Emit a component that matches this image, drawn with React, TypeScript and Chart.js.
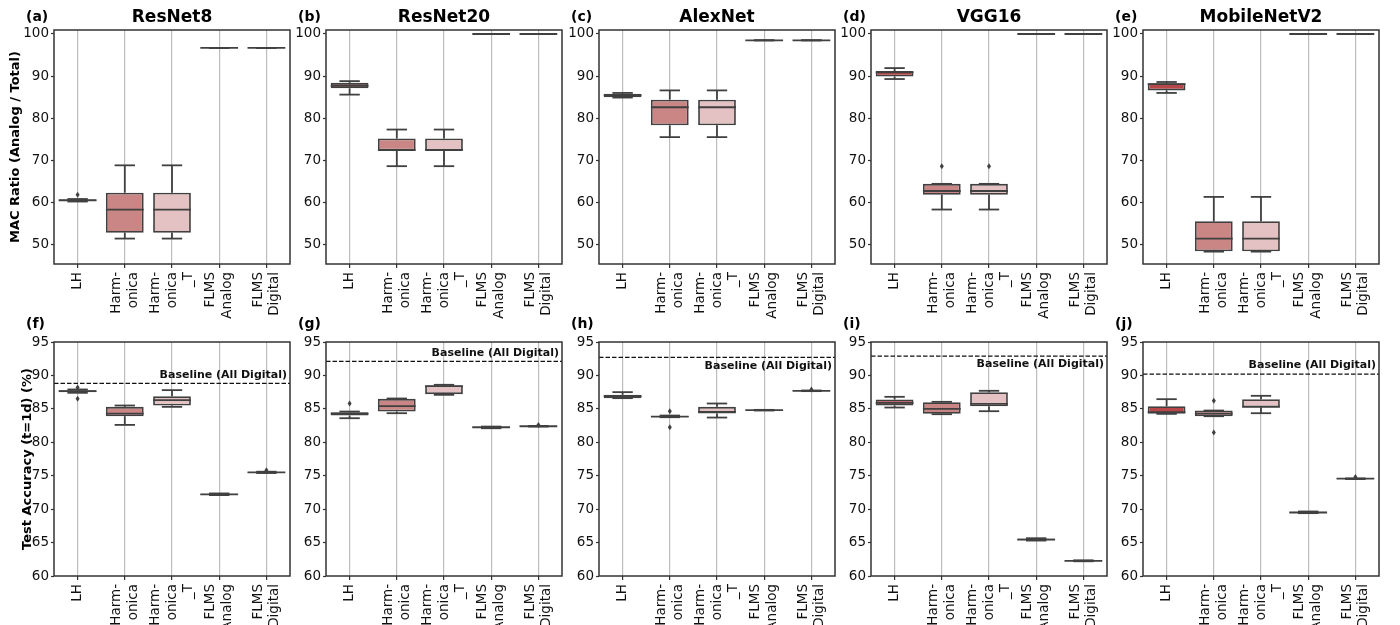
import React, { useEffect, useRef } from 'react';
import { Chart, registerables } from 'chart.js';

Chart.register(...registerables);
Chart.defaults.font.family = "'DejaVu Sans', sans-serif";

// ---------- data ----------
const categories = ['LH', 'Harmonica', 'Harmonica_T', 'FLMS Analog', 'FLMS Digital'];
const categoryTickLines = [['LH'], ['Harm-', 'onica'], ['Harm-', 'onica', '_T'], ['FLMS', 'Analog'], ['FLMS', 'Digital']];
const boxColors = ['#b9474a', '#c98684', '#e4c1c2', '#d6d6d6', '#d6d6d6'];
const modelNames = ['ResNet8', 'ResNet20', 'AlexNet', 'VGG16', 'MobileNetV2'];
const lettersTop = ['(a)', '(b)', '(c)', '(d)', '(e)'];
const lettersBottom = ['(f)', '(g)', '(h)', '(i)', '(j)'];
const macTicks = [50, 60, 70, 80, 90, 100];
const accTicks = [60, 65, 70, 75, 80, 85, 90, 95];
const macRange = [45.36, 100.95];
const accRange = [60, 95];
const macTitle = 'MAC Ratio (Analog / Total)';
const accTitle = 'Test Accuracy (t=1d) (%)';

// box stats per category: [min, q1, median, q3, max]
const macResNet8 = [[60.2, 60.3, 60.5, 60.7, 60.8], [51.4, 52.8, 58.3, 62.3, 68.8], [51.4, 52.8, 58.3, 62.3, 68.8], [96.7, 96.7, 96.7, 96.7, 96.7], [96.7, 96.7, 96.7, 96.7, 96.7]];
const macResNet20 = [[85.6, 87.1, 87.7, 88.4, 88.8], [68.6, 72.3, 72.4, 75.2, 77.3], [68.6, 72.3, 72.4, 75.2, 77.3], [100, 100, 100, 100, 100], [100, 100, 100, 100, 100]];
const macAlexNet = [[84.9, 85.0, 85.4, 85.8, 86.0], [75.5, 78.3, 82.6, 84.4, 86.6], [75.5, 78.3, 82.6, 84.4, 86.6], [98.5, 98.5, 98.5, 98.5, 98.5], [98.5, 98.5, 98.5, 98.5, 98.5]];
const macVGG16 = [[89.3, 89.9, 90.9, 91.2, 91.9], [58.3, 61.8, 62.7, 64.4, 64.4], [58.3, 61.8, 62.7, 64.4, 64.4], [100, 100, 100, 100, 100], [100, 100, 100, 100, 100]];
const macMobileNetV2 = [[86.0, 86.6, 88.1, 88.3, 88.6], [48.3, 48.4, 51.4, 55.5, 61.3], [48.3, 48.4, 51.4, 55.5, 61.3], [100, 100, 100, 100, 100], [100, 100, 100, 100, 100]];

const macOutResNet8 = [[61.8], [], [], [], []];
const macOutResNet20 = [[], [], [], [], []];
const macOutAlexNet = [[], [], [], [], []];
const macOutVGG16 = [[], [68.6], [68.6], [], []];
const macOutMobileNetV2 = [[], [], [], [], []];

const accResNet8 = [[87.4, 87.5, 87.65, 87.8, 87.9], [82.6, 83.9, 84.3, 85.3, 85.5], [85.3, 85.5, 86.3, 86.9, 87.8], [72.1, 72.15, 72.2, 72.3, 72.35], [75.4, 75.45, 75.5, 75.55, 75.6]];
const accResNet20 = [[83.6, 84.0, 84.3, 84.5, 84.6], [84.35, 84.6, 85.4, 86.5, 86.55], [87.1, 87.2, 88.4, 88.5, 88.6], [82.1, 82.15, 82.25, 82.3, 82.35], [82.35, 82.4, 82.4, 82.45, 82.45]];
const accAlexNet = [[86.6, 86.6, 86.9, 87.1, 87.5], [83.75, 83.8, 83.85, 83.95, 84.0], [83.7, 84.3, 84.55, 85.3, 85.8], [84.75, 84.78, 84.8, 84.82, 84.85], [87.65, 87.68, 87.7, 87.72, 87.75]];
const accVGG16 = [[85.2, 85.5, 85.9, 86.4, 86.8], [84.2, 84.25, 85.0, 86.0, 86.05], [84.65, 85.4, 85.75, 87.5, 87.7], [65.3, 65.35, 65.45, 65.6, 65.65], [62.2, 62.22, 62.25, 62.3, 62.35]];
const accMobileNetV2 = [[84.25, 84.25, 84.5, 85.4, 86.45], [83.9, 83.9, 84.3, 84.75, 84.75], [84.35, 85.25, 85.3, 86.45, 86.95], [69.4, 69.45, 69.5, 69.6, 69.65], [74.5, 74.52, 74.55, 74.6, 74.6]];

const accOutResNet8 = [[88.2, 86.5], [], [], [], [75.8]];
const accOutResNet20 = [[85.8], [], [], [], [82.6]];
const accOutAlexNet = [[], [84.65, 82.25], [], [], [87.9]];
const accOutVGG16 = [[], [], [], [], []];
const accOutMobileNetV2 = [[], [86.2, 81.45], [], [], [74.8]];

const baselineValues = [88.8, 92.1, 92.7, 92.9, 90.2];
const baselineText = 'Baseline (All Digital)';
const baselineTextSide = ['above', 'above', 'below', 'below', 'above'];

const macStats = [macResNet8, macResNet20, macAlexNet, macVGG16, macMobileNetV2];
const macOutliers = [macOutResNet8, macOutResNet20, macOutAlexNet, macOutVGG16, macOutMobileNetV2];
const accStats = [accResNet8, accResNet20, accAlexNet, accVGG16, accMobileNetV2];
const accOutliers = [accOutResNet8, accOutResNet20, accOutAlexNet, accOutVGG16, accOutMobileNetV2];

// ---------- style ----------
const EDGE = '#404040';
const SPINE = '#333333';
const GRID = '#bdbdbd';
const PLOT_W = 236;
const PLOT_H = 234;
const AXIS_W = 54;
const CANVAS_W = 298;
const CANVAS_H = 325;

type PanelCfg = {
  row: number;
  col: number;
  stats: number[][];
  outliers: number[][];
  ticks: number[];
  range: number[];
  title?: string;
  letter: string;
  yTitle?: string;
  baseline?: number;
  baselineSide?: string;
};

function line(ctx: CanvasRenderingContext2D, x1: number, y1: number, x2: number, y2: number) {
  ctx.beginPath();
  ctx.moveTo(x1, y1);
  ctx.lineTo(x2, y2);
  ctx.stroke();
}

function makePlugin(cfg: PanelCfg) {
  return {
    id: 'boxExtras',
    afterDatasetsDraw(chart: any) {
      const { ctx } = chart;
      const x = chart.scales.x;
      const y = chart.scales.y;
      const meta = chart.getDatasetMeta(0);
      ctx.save();
      ctx.strokeStyle = EDGE;
      ctx.lineWidth = 1.8;
      ctx.lineCap = 'butt';
      cfg.stats.forEach((s, i) => {
        const bar = meta.data[i] as any;
        const cx = x.getPixelForValue(i);
        const half = bar.width / 2;
        const cap = bar.width * 0.27;
        const yMin = y.getPixelForValue(s[0]);
        const yQ1 = y.getPixelForValue(s[1]);
        const yMed = y.getPixelForValue(s[2]);
        const yQ3 = y.getPixelForValue(s[3]);
        const yMax = y.getPixelForValue(s[4]);
        if (yMin - yQ1 > 0.5) line(ctx, cx, yQ1, cx, yMin);
        if (yQ3 - yMax > 0.5) line(ctx, cx, yQ3, cx, yMax);
        line(ctx, cx - cap, yMin, cx + cap, yMin);
        line(ctx, cx - cap, yMax, cx + cap, yMax);
        line(ctx, cx - half, yMed, cx + half, yMed);
        ctx.fillStyle = EDGE;
        (cfg.outliers[i] || []).forEach((v) => {
          const py = y.getPixelForValue(v);
          ctx.beginPath();
          ctx.moveTo(cx, py - 3);
          ctx.lineTo(cx + 2, py);
          ctx.lineTo(cx, py + 3);
          ctx.lineTo(cx - 2, py);
          ctx.closePath();
          ctx.fill();
        });
      });
      if (cfg.baseline !== undefined) {
        const area = chart.chartArea;
        const by = y.getPixelForValue(cfg.baseline);
        ctx.strokeStyle = '#111';
        ctx.lineWidth = 1.2;
        ctx.setLineDash([4.5, 2]);
        line(ctx, area.left, by, area.right, by);
        ctx.setLineDash([]);
        ctx.fillStyle = '#111';
        ctx.font = "bold 11px 'DejaVu Sans'";
        ctx.textAlign = 'right';
        ctx.textBaseline = 'middle';
        ctx.fillText(baselineText, area.right - 3, cfg.baselineSide === 'below' ? by + 8.5 : by - 8.5);
      }
      ctx.restore();
    },
    afterDraw(chart: any) {
      const { ctx } = chart;
      const area = chart.chartArea;
      const x = chart.scales.x;
      ctx.save();
      // spines
      ctx.strokeStyle = SPINE;
      ctx.lineWidth = 1.5;
      ctx.strokeRect(area.left, area.top, area.right - area.left, area.bottom - area.top);
      // x tick labels (rotated, centred multi-line)
      ctx.fillStyle = '#111';
      ctx.font = "13.5px 'DejaVu Sans'";
      ctx.textAlign = 'right';
      ctx.textBaseline = 'middle';
      const lh = 16.7;
      categoryTickLines.forEach((lines, i) => {
        const px = x.getPixelForValue(i);
        lines.forEach((t, j) => {
          const cx = px + (j - (lines.length - 1) / 2) * lh;
          ctx.save();
          ctx.translate(cx, area.bottom + 8);
          ctx.rotate(-Math.PI / 2);
          ctx.fillText(t, 0, 0);
          ctx.restore();
        });
      });
      // panel letter and title
      ctx.fillStyle = '#000';
      ctx.textBaseline = 'middle';
      ctx.textAlign = 'left';
      ctx.font = "bold 14px 'DejaVu Sans'";
      ctx.fillText(cfg.letter, area.left - 28, cfg.row === 0 ? 17 : 24);
      if (cfg.title) {
        ctx.textAlign = 'center';
        ctx.font = "bold 17px 'DejaVu Sans'";
        ctx.fillText(cfg.title, (area.left + area.right) / 2, 18);
      }
      ctx.restore();
    },
  };
}

function Panel({ cfg }: { cfg: PanelCfg }) {
  const ref = useRef<HTMLCanvasElement>(null);
  const plotLeft = Math.round(54 + 272.3 * cfg.col);
  const canvasLeft = plotLeft - AXIS_W;
  const canvasTop = cfg.row === 0 ? 0 : 300;
  const plotTop = cfg.row === 0 ? 30 : 42;
  const xAxisH = CANVAS_H - plotTop - PLOT_H;

  useEffect(() => {
    const chart = new Chart(ref.current!, {
      type: 'bar',
      data: {
        labels: categories,
        datasets: [
          {
            data: cfg.stats.map((s) => [s[1], s[3]]) as any,
            backgroundColor: boxColors,
            borderColor: EDGE,
            borderWidth: 1.8,
            borderSkipped: false,
            barPercentage: 0.8,
            categoryPercentage: 1.0,
          },
        ],
      },
      options: {
        responsive: false,
        animation: false,
        devicePixelRatio: 1,
        layout: { padding: { left: 0, top: plotTop, right: CANVAS_W - AXIS_W - PLOT_W, bottom: 0 } },
        plugins: { legend: { display: false }, tooltip: { enabled: false }, title: { display: false } },
        scales: {
          x: {
            type: 'category',
            offset: true,
            grid: { offset: false, color: GRID, lineWidth: 1.2, drawTicks: true, tickLength: 4, tickColor: SPINE, tickWidth: 1.2 },
            border: { display: false },
            ticks: { display: false },
            afterFit: (s: any) => {
              s.height = xAxisH;
            },
          },
          y: {
            type: 'linear',
            min: cfg.range[0],
            max: cfg.range[1],
            afterBuildTicks: (s: any) => {
              s.ticks = cfg.ticks.map((v) => ({ value: v }));
            },
            grid: { drawOnChartArea: false, drawTicks: true, tickLength: 3, tickColor: SPINE, tickWidth: 1.2 },
            border: { display: false },
            ticks: { font: { size: 13.5 }, color: '#111', padding: 2 },
            title: {
              display: !!cfg.yTitle,
              text: cfg.yTitle || '',
              color: '#000',
              font: { size: 13, weight: 'bold' },
              padding: { top: cfg.row === 0 ? 8 : 19.5, bottom: 0 },
            },
            afterFit: (s: any) => {
              s.width = AXIS_W;
            },
          },
        },
      } as any,
      plugins: [makePlugin(cfg)],
    });
    return () => chart.destroy();
  }, []);

  return (
    <canvas
      ref={ref}
      width={CANVAS_W}
      height={CANVAS_H}
      style={{ position: 'absolute', left: canvasLeft, top: canvasTop, width: CANVAS_W, height: CANVAS_H }}
    />
  );
}

export default function App() {
  const panels: PanelCfg[] = [];
  for (let c = 0; c < 5; c++) {
    panels.push({
      row: 0,
      col: c,
      stats: macStats[c],
      outliers: macOutliers[c],
      ticks: macTicks,
      range: macRange,
      title: modelNames[c],
      letter: lettersTop[c],
      yTitle: c === 0 ? macTitle : undefined,
    });
  }
  for (let c = 0; c < 5; c++) {
    panels.push({
      row: 1,
      col: c,
      stats: accStats[c],
      outliers: accOutliers[c],
      ticks: accTicks,
      range: accRange,
      letter: lettersBottom[c],
      yTitle: c === 0 ? accTitle : undefined,
      baseline: baselineValues[c],
      baselineSide: baselineTextSide[c],
    });
  }
  return (
    <div style={{ position: 'absolute', left: 0, top: 0, width: 1400, height: 625, overflow: 'hidden', background: '#fff' }}>
      {panels.map((p, i) => (
        <Panel key={i} cfg={p} />
      ))}
    </div>
  );
}
